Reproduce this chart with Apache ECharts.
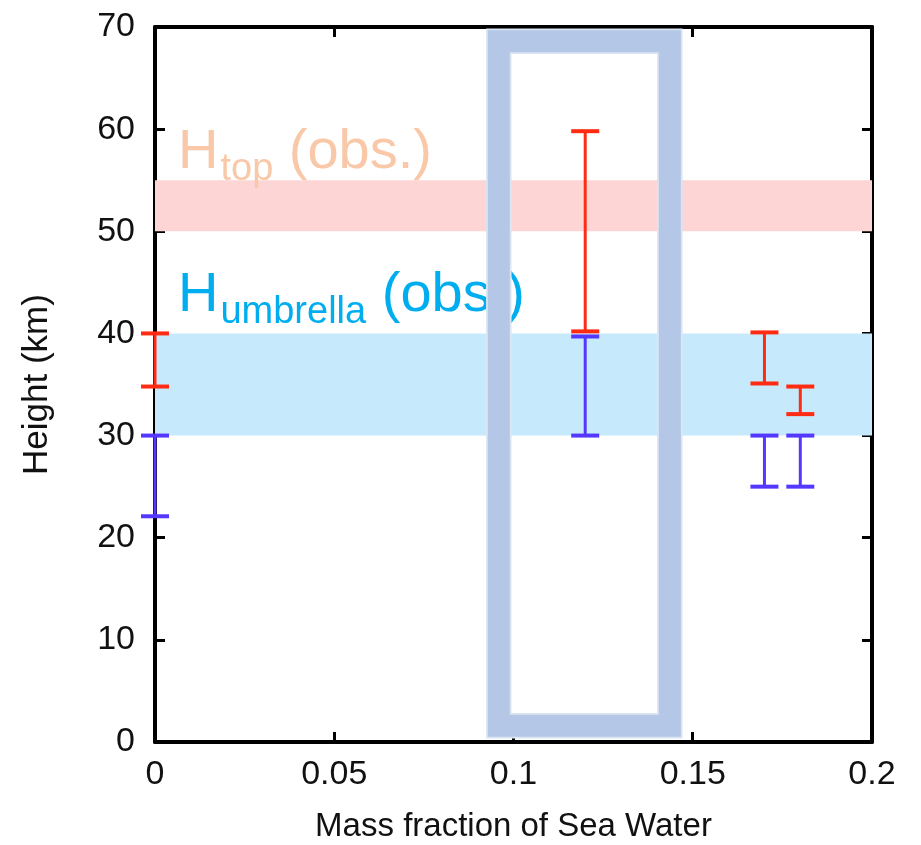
<!DOCTYPE html>
<html>
<head>
<meta charset="utf-8">
<script src="https://cdn.jsdelivr.net/npm/echarts@6/dist/echarts.min.js"></script>
<style>
  html, body { margin: 0; padding: 0; background: #fff; }
  #chart { width: 921px; height: 845px; }
</style>
</head>
<body>
<div id="chart"></div>
<script>
// Axis ranges and ticks
const xTicks = [0, 0.05, 0.1, 0.15, 0.2];
const yTicks = [0, 10, 20, 30, 40, 50, 60, 70];

// Observed height bands (km): cloud top and umbrella
const topBand = [50, 55];
const umbrellaBand = [30, 40];

// Simulated height ranges per sea-water mass fraction
const fractions = [0, 0.12, 0.17, 0.18];
const topLow = [34.8, 40.2, 35.1, 32.1];
const topHigh = [40.0, 59.8, 40.1, 34.8];
const umbLow = [22.1, 30.0, 25.0, 25.0];
const umbHigh = [30.0, 39.7, 30.0, 30.0];

// Highlight frame (mass fraction range, height range)
const highlightX = [0.0959, 0.1436];
const highlightY = [1.6, 68.6];

const FONT = '"Liberation Sans", Arial, Helvetica, sans-serif';
const RED = '#ff2b12';
const BLUE = '#5538ff';

const chart = echarts.init(document.getElementById('chart'), null, { renderer: 'canvas' });

function measure(text, size) {
  const ctx = document.createElement('canvas').getContext('2d');
  ctx.font = size + 'px "Liberation Sans"';
  return ctx.measureText(text).width;
}

// "H" + subscript + " (obs.)" built from separate text pieces on one baseline
function subscriptTitle(main, sub, tail, x, baseY, color) {
  const mainSize = 56, subSize = 38, subDrop = 11.5;
  const k = 0.31;
  const w1 = measure(main, mainSize);
  const w2 = measure(sub, subSize);
  const common = { fontFamily: FONT, fill: color, verticalAlign: 'middle', align: 'left' };
  return [
    { type: 'text', x: x, y: baseY - k * mainSize, z: 3, silent: true,
      style: Object.assign({ text: main, fontSize: mainSize }, common) },
    { type: 'text', x: x + w1 + 2, y: baseY + subDrop - k * subSize, z: 3, silent: true,
      style: Object.assign({ text: sub, fontSize: subSize }, common) },
    { type: 'text', x: x + w1 + 2 + w2, y: baseY - k * mainSize, z: 3, silent: true,
      style: Object.assign({ text: tail, fontSize: mainSize }, common) }
  ];
}

const grid = { left: 155, top: 27, width: 717, height: 715, outerBoundsMode: 'none', containLabel: false };

const baseX = {
  type: 'value', min: xTicks[0], max: xTicks[xTicks.length - 1], interval: 0.05,
  axisLine: { show: true, onZero: false, lineStyle: { color: '#000', width: 4 } },
  axisTick: { show: true, inside: true, length: 10, lineStyle: { color: '#000', width: 3 } },
  splitLine: { show: false }
};
const baseY = {
  type: 'value', min: yTicks[0], max: yTicks[yTicks.length - 1], interval: 10,
  axisLine: { show: true, onZero: false, lineStyle: { color: '#000', width: 4 } },
  axisTick: { show: true, inside: true, length: 10, lineStyle: { color: '#000', width: 3 } },
  splitLine: { show: false }
};

const bandData = [
  { lo: topBand[0], hi: topBand[1], color: '#fdd5d5' },
  { lo: umbrellaBand[0], hi: umbrellaBand[1], color: '#c6eafc' }
];

function errorBarSeries(name, low, high, color) {
  return {
    name: name,
    type: 'custom',
    z: 6,
    clip: false,
    data: fractions.map((f, i) => [f, low[i], high[i]]),
    renderItem: function (params, api) {
      const x = api.value(0);
      const pLo = api.coord([x, api.value(1)]);
      const pHi = api.coord([x, api.value(2)]);
      const half = 14;
      return {
        type: 'group',
        children: [
          { type: 'line', shape: { x1: pLo[0], y1: pLo[1], x2: pHi[0], y2: pHi[1] },
            style: { stroke: color, lineWidth: 3 } },
          { type: 'line', shape: { x1: pLo[0] - half, y1: pLo[1], x2: pLo[0] + half, y2: pLo[1] },
            style: { stroke: color, lineWidth: 4 } },
          { type: 'line', shape: { x1: pHi[0] - half, y1: pHi[1], x2: pHi[0] + half, y2: pHi[1] },
            style: { stroke: color, lineWidth: 4 } }
        ]
      };
    }
  };
}

const option = {
  backgroundColor: '#ffffff',
  animation: false,
  grid: grid,
  xAxis: [
    Object.assign({}, baseX, {
      position: 'bottom',
      name: 'Mass fraction of Sea Water',
      nameLocation: 'middle', nameGap: 68,
      nameTextStyle: { fontFamily: FONT, fontSize: 33, color: '#111' },
      axisLabel: { show: true, margin: 16, fontFamily: FONT, fontSize: 34, color: '#111',
        formatter: v => String(+v.toFixed(2)) }
    }),
    Object.assign({}, baseX, { position: 'top', axisLabel: { show: false } })
  ],
  yAxis: [
    Object.assign({}, baseY, {
      position: 'left',
      name: 'Height (km)',
      nameLocation: 'middle', nameGap: 100,
      nameTextStyle: { fontFamily: FONT, fontSize: 35, color: '#111' },
      axisLabel: { show: true, margin: 20, fontFamily: FONT, fontSize: 34, color: '#111' }
    }),
    Object.assign({}, baseY, { position: 'right', axisLabel: { show: false } })
  ],
  graphic: {
    elements: [].concat(
      subscriptTitle('H', 'top', ' (obs.)', 178, 170, '#f8c8a8'),
      subscriptTitle('H', 'umbrella', ' (obs.)', 178, 313, '#00aeef')
    )
  },
  series: [
    {
      name: 'bands',
      type: 'custom',
      z: 1,
      silent: true,
      data: bandData.map(b => [b.lo, b.hi]),
      renderItem: function (params, api) {
        const b = bandData[params.dataIndex];
        const p1 = api.coord([xTicks[0], api.value(1)]);
        const p2 = api.coord([xTicks[xTicks.length - 1], api.value(0)]);
        return { type: 'rect', shape: { x: p1[0], y: p1[1], width: p2[0] - p1[0], height: p2[1] - p1[1] },
          style: { fill: b.color } };
      }
    },
    {
      name: 'highlight',
      type: 'custom',
      z: 4,
      silent: true,
      clip: false,
      data: [[highlightX[0], highlightY[0], highlightX[1], highlightY[1]]],
      renderItem: function (params, api) {
        const p1 = api.coord([api.value(0), api.value(3)]);
        const p2 = api.coord([api.value(2), api.value(1)]);
        const shape = { x: p1[0], y: p1[1], width: p2[0] - p1[0], height: p2[1] - p1[1] };
        return {
          type: 'group',
          children: [
            { type: 'rect', shape: shape, style: { fill: 'none', stroke: '#dce5f3', lineWidth: 25.5, lineJoin: 'miter' } },
            { type: 'rect', shape: shape, style: { fill: 'none', stroke: '#b4c7e7', lineWidth: 22, lineJoin: 'miter' } }
          ]
        };
      }
    },
    errorBarSeries('top', topLow, topHigh, RED),
    errorBarSeries('umbrella', umbLow, umbHigh, BLUE)
  ]
};

chart.setOption(option);
</script>
</body>
</html>
